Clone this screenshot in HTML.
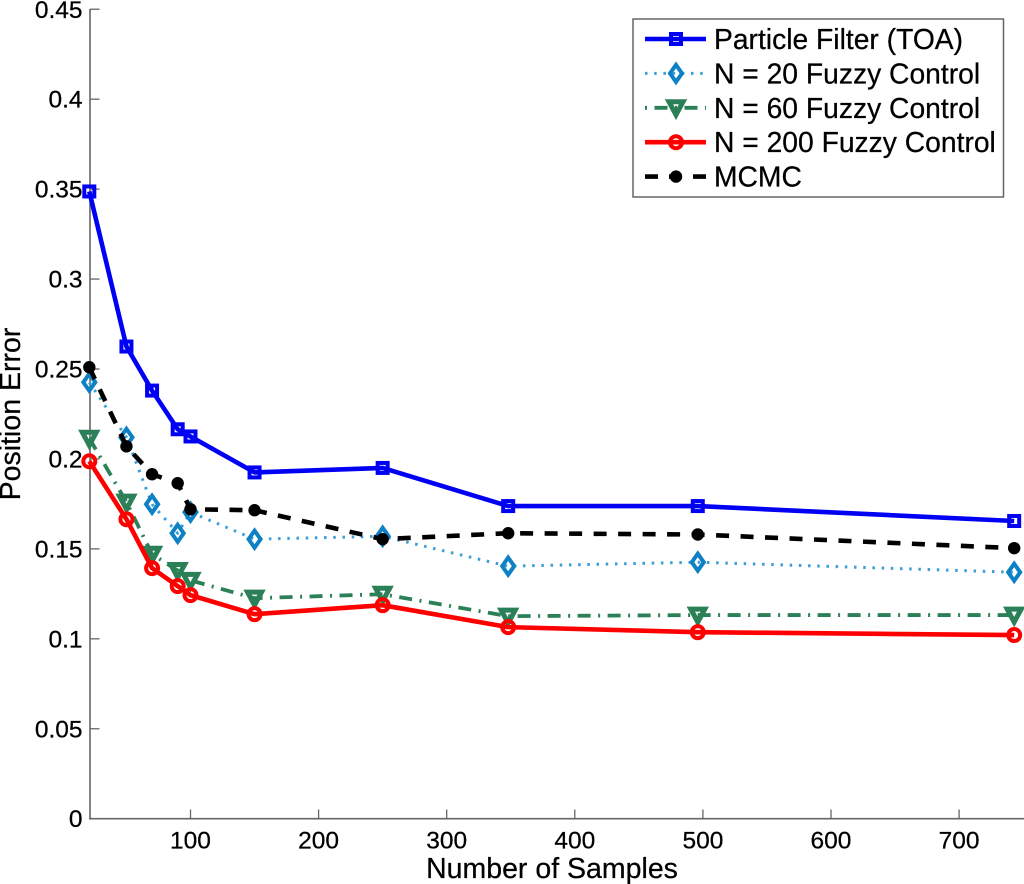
<!DOCTYPE html>
<html>
<head>
<meta charset="utf-8">
<style>
html,body{margin:0;padding:0;background:#fff;}
svg{display:block;filter:blur(0.35px);}
text{font-family:"Liberation Sans",Arial,sans-serif;fill:#000;stroke:#000;stroke-width:0.25px;}
</style>
</head>
<body>
<svg id="chart" width="1024" height="884" viewBox="0 0 1024 884" xmlns="http://www.w3.org/2000/svg"></svg>
<script>
const samples = [21, 50, 70, 90, 100, 150, 250, 348, 496, 743];
const particleFilter = [0.3487, 0.2625, 0.238, 0.2165, 0.2125, 0.1925, 0.195, 0.1738, 0.1738, 0.1655];
const fuzzy20 = [0.2426, 0.212, 0.1748, 0.1587, 0.1704, 0.1554, 0.157, 0.1404, 0.1426, 0.137];
const fuzzy60 = [0.2115, 0.176, 0.147, 0.138, 0.1325, 0.1226, 0.1248, 0.1126, 0.1132, 0.1132];
const fuzzy200 = [0.1987, 0.1665, 0.1393, 0.1293, 0.1243, 0.1137, 0.1187, 0.1065, 0.1037, 0.1021];
const mcmc = [0.251, 0.207, 0.1915, 0.1865, 0.172, 0.1715, 0.1554, 0.1587, 0.158, 0.1504];
const xTicks = [100, 200, 300, 400, 500, 600, 700];
const yTicks = [0, 0.05, 0.1, 0.15, 0.2, 0.25, 0.3, 0.35, 0.4, 0.45];
const seriesLabels = ['Particle Filter (TOA)', 'N = 20 Fuzzy Control', 'N = 60 Fuzzy Control', 'N = 200 Fuzzy Control', 'MCMC'];

const NS = 'http://www.w3.org/2000/svg';
const svg = document.getElementById('chart');

function xScale(v) { return 190.5 + (v - 100) * 1.281; }
function yScale(v) { return 818.7 - v * 1798.8; }

function make(tag, attrs, parent) {
  const el = document.createElementNS(NS, tag);
  for (const k in attrs) el.setAttribute(k, attrs[k]);
  (parent || svg).appendChild(el);
  return el;
}

function drawMarker(kind, cx, cy, color, parent) {
  if (kind === 'square') {
    return make('rect', {x: cx - 5, y: cy - 5, width: 10, height: 10, fill: 'none', stroke: color, 'stroke-width': 4}, parent);
  }
  if (kind === 'diamond') {
    return make('polygon', {points: [cx, cy - 8.5, cx + 6, cy, cx, cy + 8.5, cx - 6, cy].join(' '), fill: 'none', stroke: color, 'stroke-width': 4}, parent);
  }
  if (kind === 'triangle') {
    return make('polygon', {points: [cx - 7, cy - 6, cx + 7, cy - 6, cx, cy + 7].join(' '), fill: 'none', stroke: color, 'stroke-width': 5}, parent);
  }
  if (kind === 'circle') {
    return make('circle', {cx: cx, cy: cy, r: 6, fill: 'none', stroke: color, 'stroke-width': 4}, parent);
  }
  return make('circle', {cx: cx, cy: cy, r: 6.2, fill: color}, parent);
}

const axisColor = '#666';
const axisGroup = make('g', {});



const yAxisLine = make('line', {x1: 90, y1: 9, x2: 90, y2: 819.5, stroke: axisColor, 'stroke-width': 1.6}, axisGroup);



const xAxisLine = make('line', {x1: 89, y1: 818.7, x2: 1024, y2: 818.7, stroke: axisColor, 'stroke-width': 1.6}, axisGroup);



xTicks.forEach(function (t) {
  const px = xScale(t);
  const tick = make('line', {x1: px, y1: 818.7, x2: px, y2: 809.5, stroke: axisColor, 'stroke-width': 1.3}, axisGroup);
  
  
  const label = make('text', {x: px, y: 848.5, 'text-anchor': 'middle', 'font-size': 24.5}, axisGroup);
  label.textContent = String(t);
  
  
});

yTicks.forEach(function (t) {
  const py = yScale(t);
  if (t > 0) {
    const tick = make('line', {x1: 90, y1: py, x2: 99.5, y2: py, stroke: axisColor, 'stroke-width': 1.3}, axisGroup);
    
    
  }
  const label = make('text', {x: 82.5, y: py + 8.5, 'text-anchor': 'end', 'font-size': 24.5}, axisGroup);
  label.textContent = String(t);
  
  
});

const xTitle = make('text', {x: 552, y: 878, 'text-anchor': 'middle', 'font-size': 28.5});
xTitle.textContent = 'Number of Samples';



const yTitle = make('text', {x: 0, y: 0, 'text-anchor': 'middle', 'font-size': 28.5, transform: 'translate(20,414) rotate(-90)'});
yTitle.textContent = 'Position Error';



const styles = [
  {marker: 'square', line: '#0000f5', mark: '#0000f5', width: 4.6, dash: '', legendDash: ''},
  {marker: 'diamond', line: '#3a9fd8', mark: '#0e80c4', width: 3, dash: '2.5 6.7', legendDash: '2.5 6.7'},
  {marker: 'triangle', line: '#2b8057', mark: '#2b8057', width: 3.8, dash: '13 7.5 2 7.5', legendDash: '2 7.5 13 7.5'},
  {marker: 'circle', line: '#ff0000', mark: '#ff0000', width: 4.6, dash: '', legendDash: ''},
  {marker: 'dot', line: '#000', mark: '#000', width: 4.6, dash: '13 11.5', legendDash: '13 11'}
];

function drawSeries(values, style, name) {
  const g = make('g', {});
  
  
  const pts = values.map(function (v, i) { return xScale(samples[i]) + ',' + yScale(v); }).join(' ');
  const attrs = {points: pts, fill: 'none', stroke: style.line, 'stroke-width': style.width, 'stroke-linejoin': 'round'};
  if (style.dash) attrs['stroke-dasharray'] = style.dash;
  const line = make('polyline', attrs, g);
  
  
  values.forEach(function (v, i) {
    const m = drawMarker(style.marker, xScale(samples[i]), yScale(v), style.mark, g);
    
    
  });
}

drawSeries(particleFilter, styles[0], 'series-particle-filter');
drawSeries(fuzzy20, styles[1], 'series-n20-fuzzy');
drawSeries(fuzzy60, styles[2], 'series-n60-fuzzy');
drawSeries(fuzzy200, styles[3], 'series-n200-fuzzy');
drawSeries(mcmc, styles[4], 'series-mcmc');

const legend = make('g', {});



const legendBox = make('rect', {x: 633, y: 19, width: 370.5, height: 178, fill: '#fff', stroke: '#666', 'stroke-width': 1.5}, legend);



seriesLabels.forEach(function (label, i) {
  const rowY = 39 + i * 34.4;
  const style = styles[i];
  const entry = make('g', {}, legend);
  
  
  const attrs = {x1: 645, y1: rowY, x2: 706, y2: rowY, stroke: style.line, 'stroke-width': style.width};
  if (style.legendDash) attrs['stroke-dasharray'] = style.legendDash;
  make('line', attrs, entry);
  drawMarker(style.marker, 676, rowY, style.mark, entry);
  const text = make('text', {x: 714, y: rowY + 10, 'font-size': 28.25}, entry);
  text.textContent = label;
});
</script>
</body>
</html>
